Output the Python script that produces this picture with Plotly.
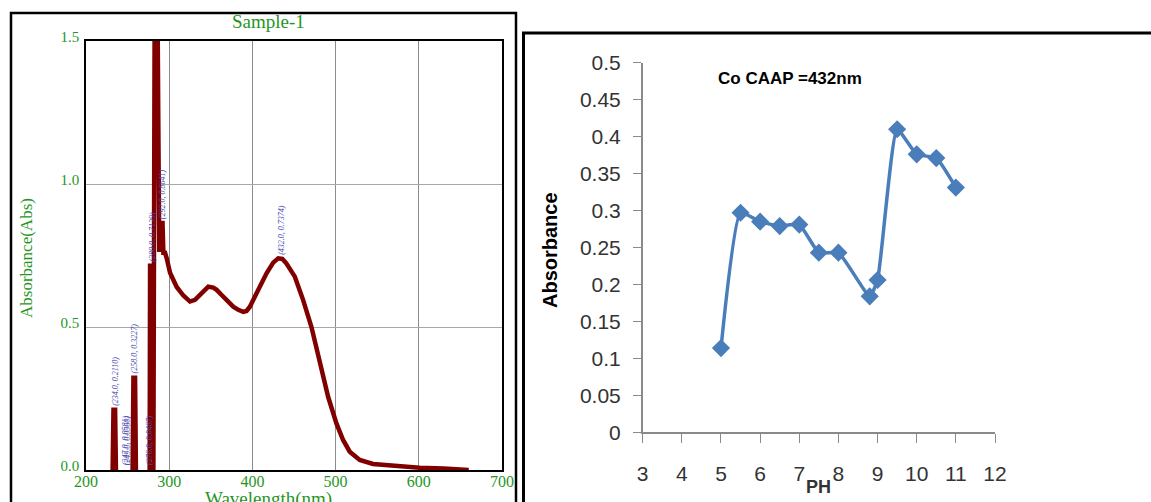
import plotly.graph_objects as go

# ---------------- Left panel: UV-Vis spectrum ----------------
wavelength = [232, 233, 235, 236, None,
              256, 257, 259, 260, None,
              276.5, 277, 280, 281, 282.5, 286, 288, 289.5, 290.5, 292, 293, 295,
              297, 301, 309, 317, 325, 331, 337, 347, 353, 357, 363, 369, 377,
              383, 389, 393, 397, 405, 411, 417, 425, 431, 436, 441, 451, 461,
              471, 481, 491, 501, 509, 517, 529, 545, 577, 601, 630, 657, 660]
absorbance = [0, 0.211, 0.211, 0, None,
              0, 0.3227, 0.3227, 0, None,
              0, 0.714, 0.714, 0, 1.6, 1.6, 0.77, 0.77, 0.864, 0.864, 0.76, 0.76,
              0.74, 0.69, 0.64, 0.61, 0.589, 0.595, 0.612, 0.641, 0.638, 0.63, 0.612, 0.594, 0.571,
              0.56, 0.553, 0.556, 0.571, 0.618, 0.655, 0.688, 0.725, 0.74, 0.738, 0.722, 0.676, 0.594,
              0.50, 0.373, 0.256, 0.163, 0.105, 0.064, 0.035, 0.021, 0.012, 0.008, 0.005, 0.003, 0.0]

peak_labels = ["(234.0, 0.2110)", "(258.0, 0.3227)", "(280.0, 0.7139)",
               "(292.0, 0.8641)", "(432.0, 0.7374)"]
peak_x = [234.5, 258.5, 280.5, 293, 434]
peak_y = [0.211, 0.3227, 0.714, 0.864, 0.7374]

small_labels = ["(247.0, 0.0581)", "(249.0, 0.0560)", "(276.0, 0.0467)"]
small_x = [247, 249.5, 275.5]

spec_xticks = [200, 300, 400, 500, 600, 700]
spec_yticks = [0.0, 0.5, 1.0, 1.5]
spec_yticktext = ["0.0", "0.5", "1.0", "1.5"]

# ---------------- Right panel: absorbance vs pH ----------------
ph = [5, 5.5, 6, 6.5, 7, 7.5, 8, 8.8, 9, 9.5, 10, 10.5, 11]
ph_abs = [0.114, 0.297, 0.285, 0.279, 0.281, 0.243, 0.243, 0.184, 0.206, 0.410, 0.376, 0.371, 0.331]
ph_xticks = [3, 4, 5, 6, 7, 8, 9, 10, 11, 12]
ph_yticks = [0, 0.05, 0.1, 0.15, 0.2, 0.25, 0.3, 0.35, 0.4, 0.45, 0.5]
ph_yticktext = ["0", "0.05", "0.1", "0.15", "0.2", "0.25", "0.3", "0.35", "0.4", "0.45", "0.5"]

W, H = 1151, 502
GREEN = "#1f961f"
SERIF = "Liberation Serif, Times New Roman, serif"
SANS = "Liberation Sans, Arial, sans-serif"


def px(x):
    return x / W


def py(y):
    return 1 - y / H


fig = go.Figure()

fig.add_trace(go.Scatter(
    x=wavelength, y=absorbance, mode="lines",
    line=dict(color="#800000", width=4.5), connectgaps=False,
    xaxis="x", yaxis="y", showlegend=False, hoverinfo="skip"))

fig.add_trace(go.Scatter(
    x=ph, y=ph_abs, mode="lines+markers",
    line=dict(color="#4a7ebb", width=3.5, shape="spline", smoothing=0.45),
    marker=dict(symbol="diamond", size=14, color="#4a7ebb"),
    xaxis="x2", yaxis="y2", showlegend=False, hoverinfo="skip"))

annotations = []
for t, xv, yv in zip(peak_labels, peak_x, peak_y):
    annotations.append(dict(
        x=xv, y=yv, xref="x", yref="y", text="<i>" + t + "</i>", textangle=-90,
        showarrow=False, xanchor="center", yanchor="bottom", yshift=2,
        font=dict(family=SERIF, size=8, color="#4848b0")))
for t, xv in zip(small_labels, small_x):
    annotations.append(dict(
        x=xv, y=0.01, xref="x", yref="y", text="<i>" + t + "</i>", textangle=-90,
        showarrow=False, xanchor="center", yanchor="bottom",
        font=dict(family=SERIF, size=8, color="#4848b0")))


def paper_text(x, y, text, font, angle=0):
    return dict(x=px(x), y=py(y), xref="paper", yref="paper", text=text,
                xanchor="center", yanchor="middle", textangle=angle,
                showarrow=False, font=font)


annotations += [
    paper_text(268, 22, "Sample-1", dict(family=SERIF, size=19, color=GREEN)),
    paper_text(26, 258, "Absorbance(Abs)", dict(family=SERIF, size=17, color=GREEN), -90),
    paper_text(268, 499, "Wavelength(nm)", dict(family=SERIF, size=19, color=GREEN)),
    paper_text(790, 79, "<b>Co CAAP =432nm</b>", dict(family=SANS, size=17, color="#000000")),
    paper_text(550, 250, "<b>Absorbance</b>", dict(family=SANS, size=20, color="#000000"), -90),
    paper_text(818, 487, "<b>PH</b>", dict(family=SANS, size=18, color="#333333")),
]

shapes = [
    dict(type="rect", xref="paper", yref="paper", x0=px(11), x1=px(516), y0=py(510), y1=py(13),
         line=dict(color="#000000", width=2.5)),
    dict(type="rect", xref="paper", yref="paper", x0=px(523.5), x1=px(1160), y0=py(510), y1=py(33),
         line=dict(color="#000000", width=3)),
]

fig.update_layout(
    width=W, height=H, margin=dict(l=0, r=0, t=0, b=0, autoexpand=False),
    paper_bgcolor="white", plot_bgcolor="white",
    annotations=annotations, shapes=shapes,
    xaxis=dict(domain=[px(86), px(502)], range=[200, 700], tickvals=spec_xticks,
               showgrid=True, gridcolor="#8c8c8c", gridwidth=1,
               showline=True, linecolor="#000000", linewidth=1.5, mirror=True,
               ticks="", zeroline=False, anchor="y", automargin=False,
               tickfont=dict(family=SERIF, size=16, color=GREEN), ticklabelstandoff=-4),
    yaxis=dict(domain=[py(470), py(41)], range=[0, 1.5], tickvals=spec_yticks,
               ticktext=spec_yticktext, showgrid=True, gridcolor="#a8a8a8", gridwidth=1,
               showline=True, linecolor="#000000", linewidth=1.5, mirror=True,
               ticks="", zeroline=False, anchor="x", ticklabelshift=-4, automargin=False,
               tickfont=dict(family=SERIF, size=15, color=GREEN), ticklabelstandoff=2),
    xaxis2=dict(domain=[px(642.7), px(995)], range=[3, 12], tickvals=ph_xticks,
                showgrid=False, zeroline=False, showline=True, linecolor="#8a8a8a",
                linewidth=1.5, ticks="outside", ticklen=9, tickcolor="#8a8a8a",
                anchor="y2", ticklabelstandoff=13, automargin=False,
                tickfont=dict(family=SANS, size=21, color="#333333")),
    yaxis2=dict(domain=[py(432.3), py(62.7)], range=[0, 0.5], tickvals=ph_yticks,
                ticktext=ph_yticktext, showgrid=False, zeroline=False, showline=True,
                linecolor="#8a8a8a", linewidth=1.5, ticks="outside", ticklen=8,
                tickcolor="#8a8a8a", anchor="x2", ticklabelstandoff=8, automargin=False,
                tickfont=dict(family=SANS, size=21, color="#333333")),
)

fig.write_html("out.html")
